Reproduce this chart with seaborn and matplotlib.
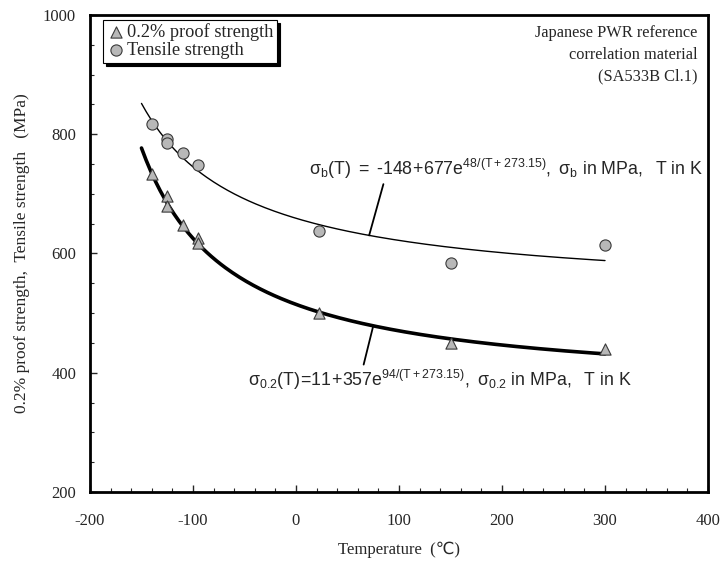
import numpy as np
import pandas as pd
import matplotlib
matplotlib.use("Agg")
import matplotlib.pyplot as plt
import seaborn as sns
from matplotlib.ticker import MultipleLocator

# ---- data ----
proof_T = [-140, -125, -125, -110, -95, -95, 22, 150, 300]
proof_S = [734, 697, 679, 647, 626, 617, 500, 450, 440]
tens_T = [-140, -125, -125, -110, -95, 22, 150, 300]
tens_S = [817, 792, 786, 768, 749, 638, 584, 615]

# fitted correlations (shown in the chart)
fit_T = np.linspace(-150, 300, 200)
fit_b = -148 + 677 * np.exp(48 / (fit_T + 273.15))
fit_02 = 11 + 357 * np.exp(94 / (fit_T + 273.15))

x_ticks = [-200, -100, 0, 100, 200, 300, 400]
y_ticks = [200, 400, 600, 800, 1000]

sns.set_style("ticks")
plt.rcParams["font.family"] = ["Liberation Serif", "DejaVu Sans"]
plt.rcParams["mathtext.fontset"] = "custom"
plt.rcParams["mathtext.rm"] = "Liberation Sans"
plt.rcParams["mathtext.it"] = "Liberation Sans:italic"

fig = plt.figure(figsize=(7.21, 5.65), dpi=100)
ax = fig.add_axes([0.1248, 0.1292, 0.8572, 0.8443])

df_fit = pd.DataFrame({"T": np.concatenate([fit_T, fit_T]),
                       "S": np.concatenate([fit_b, fit_02]),
                       "curve": ["b"] * len(fit_T) + ["p"] * len(fit_T)})
sns.lineplot(data=df_fit[df_fit.curve == "b"], x="T", y="S", ax=ax,
             color="black", lw=1.0, legend=False)
sns.lineplot(data=df_fit[df_fit.curve == "p"], x="T", y="S", ax=ax,
             color="black", lw=2.6, legend=False)

sns.scatterplot(x=proof_T, y=proof_S, ax=ax, marker="^", s=65,
                color="#b8b8b8", edgecolor="#3a3a3a", linewidth=0.8,
                label="0.2% proof strength", zorder=5)
sns.scatterplot(x=tens_T, y=tens_S, ax=ax, marker="o", s=65,
                color="#b8b8b8", edgecolor="#3a3a3a", linewidth=0.8,
                label="Tensile strength", zorder=5)

ax.set_xlim(-200, 400)
ax.set_ylim(200, 1000)
ax.set_xticks(x_ticks)
ax.set_yticks(y_ticks)
ax.set_xticklabels([str(v) for v in x_ticks])
ax.set_yticklabels([str(v) for v in y_ticks])
ax.xaxis.set_minor_locator(MultipleLocator(20))
ax.yaxis.set_minor_locator(MultipleLocator(50))
ax.tick_params(which="major", direction="in", length=5, width=1, labelsize=12)
ax.tick_params(axis="x", which="major", pad=15)
ax.tick_params(axis="y", which="major", pad=10)
ax.tick_params(which="minor", direction="in", length=3, width=0.8)
for sp in ax.spines.values():
    sp.set_visible(True)
    sp.set_linewidth(2)
    sp.set_color("black")

ax.set_xlabel("Temperature  (\u2103)", fontsize=12, labelpad=9)
ax.set_ylabel("0.2% proof strength,  Tensile strength   (MPa)", fontsize=12.5, labelpad=9)

leg = ax.legend(loc="upper left", bbox_to_anchor=(0.021, 0.99), frameon=True,
                fancybox=False, shadow={"color": "black", "alpha": 1.0},
                fontsize=13.2, handletextpad=0.1, borderpad=0.2,
                labelspacing=0.05, handlelength=1.0, borderaxespad=0)
leg.get_frame().set_edgecolor("black")
leg.get_frame().set_linewidth(0.8)

ax.text(0.983, 0.98, "Japanese PWR reference\ncorrelation material\n(SA533B Cl.1)",
        transform=ax.transAxes, ha="right", va="top", fontsize=11.8,
        linespacing=1.5)

eq_b = (r"$\mathrm{\sigma_b(T)\ =\ \text{-}148\!+\!677e^{48/(T+273.15)},\ \sigma_b\ in\ MPa,\ \ T\ in\ K}$")
eq_p = (r"$\mathrm{\sigma_{0.2}(T)\!=\!11\!+\!357e^{94/(T+273.15)},\ \sigma_{0.2}\ in\ MPa,\ \ T\ in\ K}$")
ax.annotate(eq_b, xy=(71, -148 + 677 * np.exp(48 / (71 + 273.15))),
            xytext=(13, 742), textcoords="data", fontsize=12.8,
            ha="left", va="center",
            arrowprops=dict(arrowstyle="-", color="black", lw=1.3,
                            shrinkA=0, shrinkB=0,
                            relpos=(0.19, 0.0)))
ax.annotate(eq_p, xy=(75, 11 + 357 * np.exp(94 / (75 + 273.15))),
            xytext=(-47, 388), textcoords="data", fontsize=12.8,
            ha="left", va="center",
            arrowprops=dict(arrowstyle="-", color="black", lw=1.3,
                            shrinkA=0, shrinkB=0,
                            relpos=(0.3, 1.0)))

fig.savefig("out.png", dpi=100)
